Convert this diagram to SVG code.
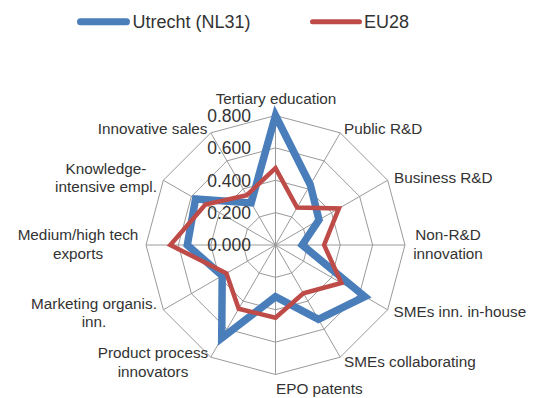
<svg xmlns="http://www.w3.org/2000/svg" width="539" height="398" viewBox="0 0 539 398">
<style>
text{font-family:"Liberation Sans",Arial,sans-serif;fill:#333}
.cat{font-size:15.3px}
.tick{font-size:17.5px;text-anchor:end}
.leg{font-size:18px}
.grid{fill:none;stroke:#9a9a9a;stroke-width:1}
.blue{fill:none;stroke:#4a7ebb;stroke-width:7.5;stroke-linejoin:miter}
.red{fill:none;stroke:#be4b48;stroke-width:4.5;stroke-linejoin:miter}
</style>
<rect width="539" height="398" fill="#fff"/>
<g id="legend">
<line x1="80.5" y1="21.7" x2="126.5" y2="21.7" stroke="#4a7ebb" stroke-width="7" stroke-linecap="round"/>
<text class="leg" x="132.5" y="27.8">Utrecht (NL31)</text>
<line x1="312.5" y1="21.7" x2="359.5" y2="21.7" stroke="#be4b48" stroke-width="5" stroke-linecap="round"/>
<text class="leg" x="364" y="27.8">EU28</text>
</g>
<g id="grid">
<polygon class="grid" points="275.5,212.63 291.69,216.96 303.54,228.81 307.88,245 303.54,261.19 291.69,273.04 275.5,277.38 259.31,273.04 247.46,261.19 243.13,245 247.46,228.81 259.31,216.96"/>
<polygon class="grid" points="275.5,180.25 307.88,188.93 331.57,212.63 340.25,245 331.57,277.38 307.88,301.07 275.5,309.75 243.13,301.07 219.43,277.38 210.75,245 219.43,212.63 243.13,188.93"/>
<polygon class="grid" points="275.5,147.88 324.06,160.89 359.61,196.44 372.63,245 359.61,293.56 324.06,329.11 275.5,342.13 226.94,329.11 191.39,293.56 178.38,245 191.39,196.44 226.94,160.89"/>
<polygon class="grid" points="275.5,115.5 340.25,132.85 387.65,180.25 405,245 387.65,309.75 340.25,357.15 275.5,374.5 210.75,357.15 163.35,309.75 146,245 163.35,180.25 210.75,132.85"/>
<path class="grid" d="M275.5,245L275.5,115.5M275.5,245L340.25,132.85M275.5,245L387.65,180.25M275.5,245L405,245M275.5,245L387.65,309.75M275.5,245L340.25,357.15M275.5,245L275.5,374.5M275.5,245L210.75,357.15M275.5,245L163.35,309.75M275.5,245L146,245M275.5,245L163.35,180.25M275.5,245L210.75,132.85"/>
</g>
<g id="series">
<polygon class="blue" points="275.5,115.5 310.3,184.7 319,219.9 302.2,245 364.8,296.6 318.4,319.3 275.5,296.8 221.7,338.2 222.2,275.8 187.3,245 195.6,198.9 251.2,202.9"/>
<polygon class="red" points="275.5,168.1 297.1,207.6 338.9,208.4 324.1,245 341.4,283 303.4,293.3 275.5,317.8 238.7,308.8 226.4,273.3 170.3,245 205.4,204.5 246.8,195.2"/>
</g>
<g id="ticks">
<text class="tick" x="251" y="121.7">0.800</text>
<text class="tick" x="251" y="154.1">0.600</text>
<text class="tick" x="251" y="186.5">0.400</text>
<text class="tick" x="251" y="218.9">0.200</text>
<text class="tick" x="251" y="251.2">0.000</text>
</g>
<g id="labels">
<text id="l-tertiary" class="cat" x="276" y="104" text-anchor="middle">Tertiary education</text>
<text id="l-public" class="cat" x="344" y="134">Public R&amp;D</text>
<text id="l-business" class="cat" x="394" y="182.7">Business R&amp;D</text>
<text id="l-nonrd" class="cat" x="448" y="240" text-anchor="middle">Non-R&amp;D<tspan x="448" y="259.3">innovation</tspan></text>
<text id="l-smeinhouse" class="cat" x="393.5" y="317.3">SMEs inn. in-house</text>
<text id="l-smecollab" class="cat" x="344" y="367.3">SMEs collaborating</text>
<text id="l-epo" class="cat" x="276" y="394">EPO patents</text>
<text id="l-product" class="cat" x="153" y="357.5" text-anchor="middle">Product process<tspan x="153" y="377">innovators</tspan></text>
<text id="l-marketing" class="cat" x="94" y="309.4" text-anchor="middle">Marketing organis.<tspan x="94" y="327">inn.</tspan></text>
<text id="l-medium" class="cat" x="78" y="240" text-anchor="middle">Medium/high tech<tspan x="78" y="258.5">exports</tspan></text>
<text id="l-knowledge" class="cat" x="106" y="174" text-anchor="middle">Knowledge-<tspan x="106" y="192.3">intensive empl.</tspan></text>
<text id="l-innovative" class="cat" x="207.5" y="133.6" text-anchor="end">Innovative sales</text>
</g>
</svg>
